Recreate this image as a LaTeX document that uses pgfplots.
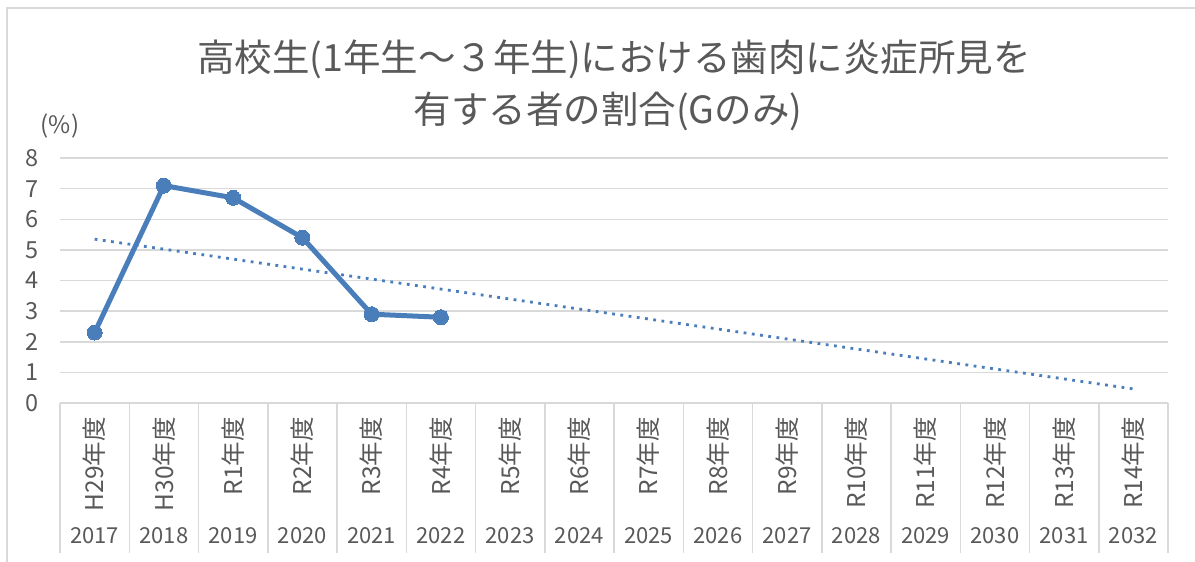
\documentclass[border=0pt]{standalone}
\usepackage{pgfplots}
\pgfplotsset{compat=1.18}
\usepackage{fontspec}
\setmainfont{Noto Sans CJK JP}
\definecolor{txt}{HTML}{595959}
\definecolor{gridc}{HTML}{D9D9D9}
\definecolor{frame}{HTML}{D9D9D9}
\definecolor{sblue}{HTML}{4A7EBB}
\newcommand{\fs}[1]{\fontsize{#1}{1.2\dimexpr#1pt\relax}\selectfont}
\begin{document}
\begin{tikzpicture}
\useasboundingbox (0,0) rectangle (1195pt,-562pt);
\fill[white] (0,0) rectangle (1195pt,-562pt);
\draw[frame, line width=1.5pt] (7pt,-562pt) -- (7pt,-8pt) -- (1195pt,-8pt);
\begin{axis}[
  at={(60pt,-403pt)}, anchor=south west,
  scale only axis,
  width=1108pt, height=245pt,
  xmin=-0.5, xmax=15.5,
  ymin=0, ymax=8,
  ytick={0,1,...,8},
  xtick={0,1,...,15},
  xticklabels={H29年度,H30年度,R1年度,R2年度,R3年度,R4年度,R5年度,R6年度,R7年度,R8年度,R9年度,R10年度,R11年度,R12年度,R13年度,R14年度},
  extra x ticks={0,1,...,15},
  extra x tick labels={2017,2018,2019,2020,2021,2022,2023,2024,2025,2026,2027,2028,2029,2030,2031,2032},
  extra x tick style={major tick length=0pt, grid=none,
    xticklabel style={rotate=-90, anchor=center, font=\fs{22}, yshift=-119pt}},
  major tick length=0pt,
  ymajorgrids,
  grid style={gridc, line width=1.5pt},
  axis line style={draw=none},
  /pgf/number format/assume math mode=true,
  yticklabel style={font=\fs{23.5}, text=txt, inner sep=0pt, anchor=east, xshift=-21pt},
  xticklabel style={font=\fs{24.5}, text=txt, inner sep=0pt, yshift=-14pt, rotate=90, anchor=east},
  clip=false,
]
\addplot[sblue, line width=5pt, mark=*, mark size=7.5pt, mark options={fill=sblue, draw=sblue, line width=0pt}]
  coordinates {(0,2.3) (1,7.1) (2,6.7) (3,5.4) (4,2.9) (5,2.8)};
\addplot[sblue, line width=2.8pt, dash pattern=on 2.8pt off 5.5pt]
  coordinates {(0,5.35) (15,0.46)};
\end{axis}
\foreach \i in {0,...,16}
  \draw[gridc, line width=1.5pt] (60pt+\i*69.25pt,-403pt) -- (60pt+\i*69.25pt,-553pt);
\draw[gridc, line width=1.5pt] (60pt,-403pt) -- (1168pt,-403pt);
\node[text=txt, font=\fs{37.5}] at (614pt,-59pt) {高校生(1年生～３年生)における歯肉に炎症所見を};
\node[text=txt, font=\fs{37.5}] at (608pt,-111pt) {有する者の割合(Gのみ)};
\node[text=txt, font=\fs{24}] at (60pt,-126pt) {(\%)};
\end{tikzpicture}
\end{document}
